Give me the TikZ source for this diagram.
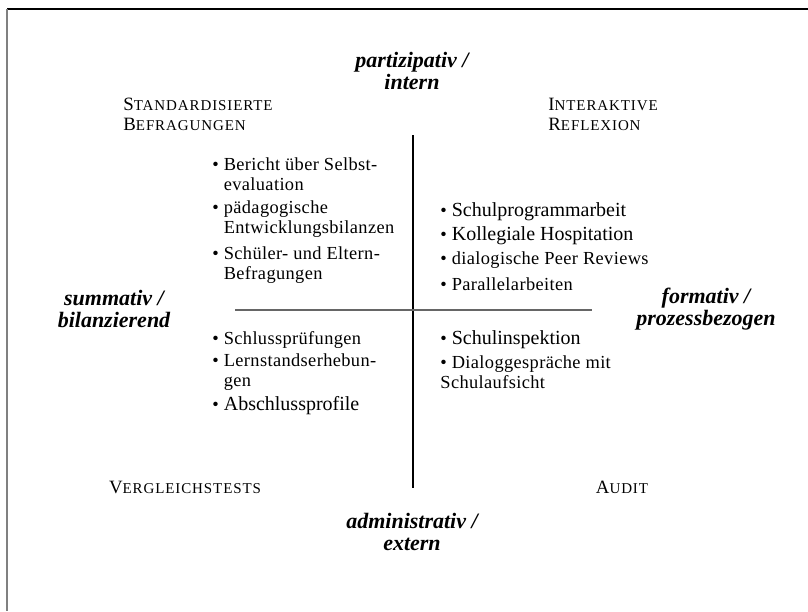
\documentclass[tikz,border=0pt]{standalone}
\usepackage{fontspec}
\setmainfont{Liberation Serif}
\newcommand{\capsc}[2]{#1{\fontsize{7.5}{8}\selectfont\addfontfeature{LetterSpace=6}#2}}
\newcommand{\bul}{\textbullet\ }
\newcommand{\ind}{\phantom{\textbullet\ }}
\newcommand{\bigitem}[1]{{\addfontfeature{LetterSpace=0}\fontsize{10}{10}\selectfont #1}}
\begin{document}
\begin{tikzpicture}[x=0.5pt,y=-0.5pt]

\tikzset{
  HeadStyle/.style = { align = center, inner sep = 0pt,
                       font = \fontsize{11}{11}\selectfont\bfseries\itshape },
  CornerStyle/.style = { align = left, anchor = west, inner sep = 0pt,
                       font = \fontsize{9.4}{10}\selectfont },
  ItemStyle/.style = { align = left, anchor = west, inner sep = 0pt,
                       font = \fontsize{9.2}{10}\selectfont\addfontfeature{LetterSpace=2} },
  AxisStyle/.style = { line width = 0.6pt } }
  \useasboundingbox (0,0) rectangle (808,611);
  \coordinate (tl) at (7,9);
  \coordinate (tr) at (808,9);
  \coordinate (bl) at (7,611);
  \draw[line width = 0.8pt] (tl) -- (tr);
  \draw[line width = 1.2pt, gray] (tl) -- (bl);

  \coordinate (n) at (413,135);
  \coordinate (s) at (413,488);
  \coordinate (w) at (235,310);
  \coordinate (e) at (592,310);
  \draw[AxisStyle] (n) -- (s);
  \draw[AxisStyle, black!60] (w) -- (e);

  \node[HeadStyle] (top) at (412,71) {partizipativ /\\intern};
  \node[HeadStyle] (bottom) at (412,532) {administrativ /\\extern};
  \node[HeadStyle] (left) at (114,309) {summativ /\\bilanzierend};
  \node[HeadStyle] (right) at (706,309) {formativ /\\prozessbezogen};

  \node[CornerStyle] (standard) at (123,114) {\capsc{S}{TANDARDISIERTE}\\\capsc{B}{EFRAGUNGEN}};
  \node[CornerStyle] (interaktiv) at (548,114) {\capsc{I}{NTERAKTIVE}\\\capsc{R}{EFLEXION}};
  \node[CornerStyle, anchor = center] (vergleich) at (185,487) {\capsc{V}{ERGLEICHSTESTS}};
  \node[CornerStyle, anchor = center] (audit) at (622,487) {\capsc{A}{UDIT}};

  \node[ItemStyle] (a1) at (212,174) {\bul Bericht über Selbst-\\\ind evaluation};
  \node[ItemStyle] (a2) at (212,219) {\bul pädagogische\\\ind Entwicklungsbilanzen};
  \node[ItemStyle] (a3) at (212,265) {\bul Schüler- und Eltern-\\\ind Befragungen};

  \node[ItemStyle] (b1) at (440,212) {\bul \bigitem{Schulprogrammarbeit}};
  \node[ItemStyle] (b2) at (440,236) {\bul \bigitem{Kollegiale Hospitation}};
  \node[ItemStyle] (b3) at (440,260) {\bul dialogische Peer Reviews};
  \node[ItemStyle] (b4) at (440,284) {\bul Parallelarbeiten};

  \node[ItemStyle] (c1) at (212,340) {\bul Schlussprüfungen};
  \node[ItemStyle] (c2) at (212,372) {\bul Lernstandserhebun-\\\ind gen};
  \node[ItemStyle] (c3) at (212,406) {\bul \bigitem{Abschlussprofile}};

  \node[ItemStyle] (d1) at (440,340) {\bul \bigitem{Schulinspektion}};
  \node[ItemStyle] (d2) at (440,372) {\bul Dialoggespräche mit\\Schulaufsicht};

\end{tikzpicture}
\end{document}
